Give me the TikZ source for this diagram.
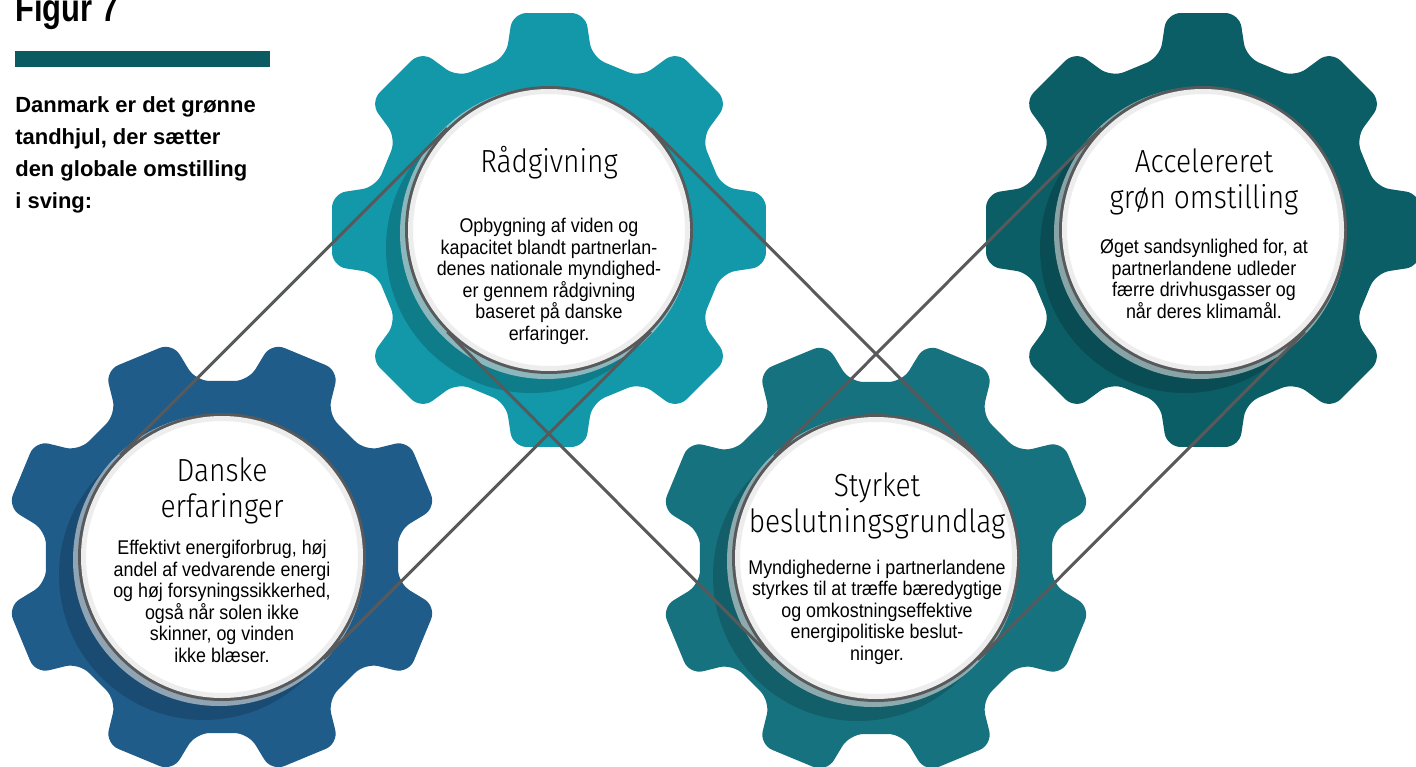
\documentclass[tikz,border=0pt]{standalone}
\usepackage{fontspec}
\setmainfont{Liberation Sans}
\newfontfamily\bodyfont{Liberation Sans}[FakeStretch=0.9]
\newfontfamily\figfont{Liberation Sans}[FakeStretch=0.8]
\newfontfamily\thinfont{Fira Sans Light}[FakeStretch=0.88]
\definecolor{gBlue}{HTML}{1F5C8A}
\definecolor{sBlue}{HTML}{1A4C73}
\definecolor{gLight}{HTML}{1398AA}
\definecolor{sLight}{HTML}{0F7C8A}
\definecolor{gMid}{HTML}{16727F}
\definecolor{sMid}{HTML}{125E69}
\definecolor{gDark}{HTML}{0C5E66}
\definecolor{sDark}{HTML}{094C53}
\definecolor{beltgray}{HTML}{58595B}
\definecolor{barcol}{HTML}{0B5C62}

\begin{document}
\begin{tikzpicture}[x=0.02cm, y=-0.02cm,
    hub/.style={circle, fill=white, draw=beltgray, line width=0.08cm, minimum size=5.68cm, inner sep=0pt},
    belt/.style={draw=beltgray, line width=0.06cm},
    ttl/.style={font=\thinfont\fontsize{18.2}{20}\selectfont, align=center, inner sep=0pt, anchor=base},
    body/.style={font=\bodyfont\fontsize{11.3}{12.2}\selectfont, align=center, inner sep=0pt, anchor=base}]
    \useasboundingbox (0,0) rectangle (1416,767);
    \clip (0,0) rectangle (1416,767);

    % Gears with shadow and white hub
    \foreach \nm/\cx/\cy/\rot/\col/\shd in {danske/222/557/22.5/gBlue/sBlue, raad/549/230/0/gLight/sLight, styrk/876/558/22.5/gMid/sMid, accel/1203/230/0/gDark/sDark}{
        \fill[\col, rounded corners=0.28cm, shift={(\cx,\cy)}]
            (\rot-14:178) -- (\rot-9.5:220) -- (\rot+9.5:220) -- (\rot+14:178)
            \foreach \k in {1,...,7}{ -- (\rot+45*\k-14:178) -- (\rot+45*\k-9.5:220) -- (\rot+45*\k+9.5:220) -- (\rot+45*\k+14:178)} -- cycle;
        \fill[\shd] (\cx-18,\cy+18) circle (145);
        \fill[gray!25, opacity=0.6] (\cx-3,\cy+3) circle (146);
        \node[hub] (\nm) at (\cx,\cy) {};
        \draw[black!7, line width=0.1cm] (\cx,\cy) circle (138.5);
    }

    % Belt
    \draw[belt] (danske.135) -- (raad.135);
    \draw[belt] (danske.-45) -- (raad.-45);
    \draw[belt] (raad.45) -- (styrk.45);
    \draw[belt] (raad.-135) -- (styrk.-135);
    \draw[belt] (styrk.135) -- (accel.135);
    \draw[belt] (styrk.-45) -- (accel.-45);

    % Texts in the hubs (placed by the last baseline)
    \node[ttl] (raadT) at (549,173) {Rådgivning};
    \node[body] (raadB) at (549,340) {Opbygning af viden og\\kapacitet blandt partnerlan-\\denes nationale myndighed-\\er gennem rådgivning\\baseret på danske\\erfaringer.};
    \node[ttl] (danskeT) at (222,517) {Danske\\erfaringer};
    \node[body] (danskeB) at (222,662) {Effektivt energiforbrug, høj\\andel af vedvarende energi\\og høj forsyningssikkerhed,\\også når solen ikke\\skinner, og vinden\\ikke blæser.};
    \node[ttl] (styrkT) at (877,532) {Styrket\\beslutningsgrundlag};
    \node[body] (styrkB) at (877,660) {Myndighederne i partnerlandene\\styrkes til at træffe bæredygtige\\og omkostningseffektive\\energipolitiske beslut-\\ninger.};
    \node[ttl] (accelT) at (1204,208) {Accelereret\\grøn omstilling};
    \node[body] (accelB) at (1204,318) {Øget sandsynlighed for, at\\partnerlandene udleder\\færre drivhusgasser og\\når deres klimamål.};

    % Heading
    \node[anchor=base west, inner sep=0pt, font=\figfont\bfseries\fontsize{22}{24}\selectfont] (figT) at (15,22) {Figur 7};
    \fill[barcol] (15,51) rectangle (270,67);
    \node[anchor=base west, align=left, inner sep=0pt, font=\bfseries\fontsize{12.5}{18.1}\selectfont] (intro) at (15,208) {Danmark er det grønne\\tandhjul, der sætter\\den globale omstilling\\i sving:};
\end{tikzpicture}
\end{document}
